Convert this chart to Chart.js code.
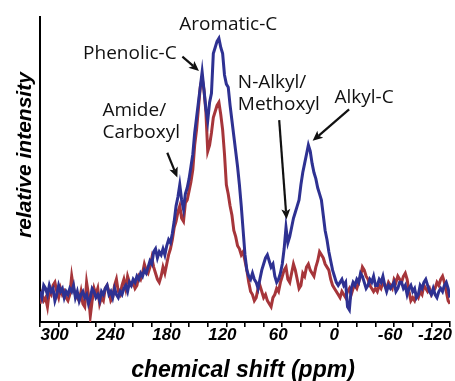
<!DOCTYPE html>
<html>
<head>
<meta charset="utf-8">
<script src="https://cdn.jsdelivr.net/npm/chart.js@4.4.0/dist/chart.umd.min.js"></script>
<style>
  html, body { margin: 0; padding: 0; background: #fff; }
  #wrap { width: 455px; height: 381px; position: relative; }
</style>
</head>
<body>
<div id="wrap"><canvas id="nmrChart"></canvas></div>
<script>
// spectra sampled every 2 ppm, from 320 ppm down to -120 ppm
const ppmStart = 320;
const ppmStep = -2;

const blueIntensity = [
  10, 8, 12, 11, 9, 12, 10, 11, 7, 9,
  12, 10, 11, 8, 10, 9, 11, 10, 12, 8,
  10, 7, 9, 10, 8, 9, 6, 8, 11, 10,
  8, 9, 7, 10, 9, 11, 12, 9, 10, 8,
  11, 9, 8, 10, 9, 11, 12, 10, 13, 12,
  14, 13, 15, 14, 16, 15, 17, 16, 18, 20,
  19, 23, 24, 21, 23, 22, 24, 22, 25, 27,
  26, 29, 33, 38, 41, 45, 40, 37, 42, 44,
  47, 51, 55, 62, 67, 72, 77, 82, 76, 70,
  66, 72, 75, 88, 90, 92, 93, 90, 88, 81,
  78, 77, 71, 66, 61, 56, 51, 45, 38, 30,
  22, 17, 15, 14, 16, 14, 13, 11, 14, 17,
  19, 21, 22, 20, 18, 19, 15, 13, 14, 16,
  19, 24, 31, 26, 28, 31, 34, 36, 38, 40,
  45, 49, 52, 55, 58, 56, 52, 49, 47, 44,
  42, 40, 35, 30, 27, 23, 20, 17, 15, 13,
  12, 13, 14, 12, 13, 5, 4, 11, 13, 12,
  14, 13, 16, 15, 13, 11, 12, 14, 13, 15,
  12, 12, 14, 13, 15, 12, 10, 12, 11, 12,
  13, 10, 11, 13, 13, 11, 12, 9, 11, 12,
  10, 11, 8, 9, 12, 11, 13, 14, 12, 10,
  9, 11, 9, 8, 10, 11, 10, 12, 13, 11,
  8
];

const redIntensity = [
  6, 9, 7, 8, 5, 10, 9, 12, 13, 10,
  8, 11, 9, 10, 8, 7, 9, 15, 11, 9,
  8, 7, 10, 6, 5, 13, 9, 2, 7, 11,
  9, 11, 6, 8, 7, 11, 12, 10, 7, 8,
  12, 14, 10, 9, 12, 14, 11, 15, 13, 12,
  13, 11, 12, 15, 14, 16, 19, 17, 16, 18,
  21, 18, 16, 14, 13, 15, 18, 16, 19, 22,
  24, 27, 31, 33, 36, 38, 34, 33, 39, 40,
  43, 46, 50, 58, 63, 70, 77, 80, 76, 69,
  56, 58, 62, 67, 69, 71, 72, 68, 63, 55,
  45, 42, 38, 35, 30, 28, 25, 24, 22, 23,
  20, 17, 13, 10, 9, 7, 8, 11, 12, 10,
  8, 9, 7, 6, 5, 8, 9, 11, 10, 13,
  15, 17, 18, 14, 13, 16, 19, 17, 14, 11,
  12, 16, 15, 18, 19, 17, 16, 15, 18, 20,
  23, 22, 21, 19, 18, 17, 14, 12, 11, 10,
  9, 8, 10, 9, 8, 10, 11, 9, 11, 12,
  11, 13, 15, 18, 17, 15, 14, 12, 11, 10,
  11, 10, 12, 11, 13, 12, 11, 13, 12, 11,
  14, 13, 15, 14, 13, 15, 16, 14, 10, 7,
  8, 7, 9, 8, 10, 9, 12, 11, 10, 11,
  9, 10, 11, 13, 12, 14, 15, 13, 10, 7,
  6
];

const xTickLabels = [300, 240, 180, 120, 60, 0, -60, -120];

// peak names, placed in data units (ppm, intensity of first baseline)
const peakLabels = [
  { lines: ['Aromatic-C'], ppm: 118, at: 95.7, align: 'center' },
  { lines: ['Phenolic-C'], ppm: 173.3, at: 86.2, align: 'right' },
  { lines: ['Amide/', 'Carboxyl'], ppm: 253, at: 67.5, align: 'left' },
  { lines: ['N-Alkyl/', 'Methoxyl'], ppm: 107.7, at: 76.7, align: 'left' },
  { lines: ['Alkyl-C'], ppm: -27.8, at: 71.8, align: 'center' }
];

const peakArrows = [
  { from: [167.2, 87.0], to: [149.4, 82.3] },
  { from: [183.4, 55.5], to: [172.6, 47.4] },
  { from: [63.3, 66.2], to: [55.4, 33.7] },
  { from: [-11.7, 69.7], to: [27.4, 59.4] }
];

const toPoints = (vals) => vals.map((v, i) => ({ x: ppmStart + ppmStep * i, y: v }));

const annotate = {
  id: 'annotate',
  afterDraw(chart) {
    const { ctx, scales: { x, y } } = chart;
    ctx.save();
    ctx.fillStyle = '#111';
    ctx.strokeStyle = '#111';

    ctx.font = '19px "Open Sans", sans-serif';
    ctx.textBaseline = 'alphabetic';
    peakLabels.forEach((l) => {
      ctx.textAlign = l.align;
      const px = x.getPixelForValue(l.ppm);
      const py = y.getPixelForValue(l.at);
      l.lines.forEach((t, k) => ctx.fillText(t, px, py + k * 22));
    });

    peakArrows.forEach((a) => {
      const x0 = x.getPixelForValue(a.from[0]);
      const y0 = y.getPixelForValue(a.from[1]);
      const x1 = x.getPixelForValue(a.to[0]);
      const y1 = y.getPixelForValue(a.to[1]);
      const ang = Math.atan2(y1 - y0, x1 - x0);
      const head = 11;
      ctx.lineWidth = 2.2;
      ctx.beginPath();
      ctx.moveTo(x0, y0);
      ctx.lineTo(x1 - Math.cos(ang) * head * 0.7, y1 - Math.sin(ang) * head * 0.7);
      ctx.stroke();
      ctx.beginPath();
      ctx.moveTo(x1, y1);
      ctx.lineTo(x1 - head * Math.cos(ang - 0.42), y1 - head * Math.sin(ang - 0.42));
      ctx.lineTo(x1 - head * 0.7 * Math.cos(ang), y1 - head * 0.7 * Math.sin(ang));
      ctx.lineTo(x1 - head * Math.cos(ang + 0.42), y1 - head * Math.sin(ang + 0.42));
      ctx.closePath();
      ctx.fill();
    });

    // x tick labels: the last one is kept inside the canvas
    ctx.fillStyle = '#000';
    ctx.font = 'italic bold 17px "Liberation Sans", Arial, sans-serif';
    xTickLabels.forEach((v, i) => {
      const last = i === xTickLabels.length - 1;
      ctx.textAlign = last ? 'right' : 'center';
      ctx.fillText(String(v), x.getPixelForValue(v) + (last ? 2 : -4), 340);
    });

    // axis titles
    ctx.font = 'italic bold 23px "Liberation Sans", Arial, sans-serif';
    ctx.textAlign = 'center';
    ctx.fillText('chemical shift (ppm)', 243, 377);
    ctx.font = 'italic bold 21px "Liberation Sans", Arial, sans-serif';
    ctx.translate(31, 155);
    ctx.rotate(-Math.PI / 2);
    ctx.fillText('relative intensity', 0, 0);
    ctx.restore();
  }
};

new Chart(document.getElementById('nmrChart'), {
  type: 'line',
  data: {
    datasets: [
      {
        label: 'blue',
        data: toPoints(blueIntensity),
        borderColor: '#2e3192',
        borderWidth: 3,
        pointRadius: 0,
        tension: 0
      },
      {
        label: 'red',
        data: toPoints(redIntensity),
        borderColor: '#a6353a',
        borderWidth: 3,
        pointRadius: 0,
        tension: 0
      }
    ]
  },
  options: {
    responsive: true,
    maintainAspectRatio: false,
    animation: false,
    devicePixelRatio: 1,
    layout: { padding: { top: 17, right: 5, left: 0, bottom: 0 } },
    plugins: { legend: { display: false }, tooltip: { enabled: false } },
    scales: {
      x: {
        type: 'linear',
        reverse: true,
        min: -120,
        max: 320,
        afterFit: (scale) => { scale.height = 59; },
        border: { display: true, color: '#000', width: 2 },
        grid: { drawOnChartArea: false, drawTicks: true, tickLength: 5, color: '#000', lineWidth: 1.6 },
        ticks: { stepSize: 20, autoSkip: false, maxRotation: 0, display: false }
      },
      y: {
        min: 0,
        max: 100,
        afterFit: (scale) => { scale.width = 40; },
        border: { display: true, color: '#000', width: 2 },
        grid: { drawOnChartArea: false, drawTicks: false },
        ticks: { display: false }
      }
    }
  },
  plugins: [annotate]
});
</script>
</body>
</html>
